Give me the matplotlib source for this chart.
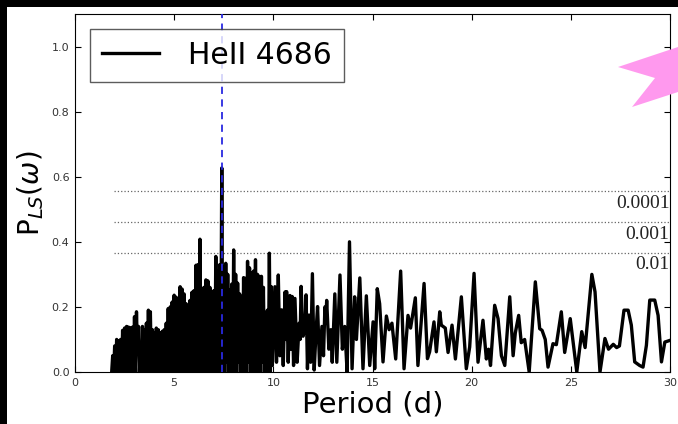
"""Lomb-Scargle periodogram of the HeII 4686 line."""

import matplotlib

matplotlib.use("Agg")
import matplotlib.pyplot as plt
from matplotlib.patches import Polygon, Rectangle

plt.rcParams["path.simplify"] = False

# dense short-period part: alternating troughs and peaks
trough_period = [
    1.85, 1.95, 2.05, 2.15, 2.25, 2.35, 2.45, 2.55, 2.65, 2.75,
    2.85, 2.95, 3.05, 3.15, 3.25, 3.35, 3.45, 3.55, 3.65, 3.75,
    3.85, 3.95, 4.05, 4.15, 4.25, 4.35, 4.45, 4.55, 4.65, 4.75,
    4.85, 4.95, 5.05, 5.15, 5.25, 5.35, 5.45, 5.55, 5.65, 5.75,
    5.85, 5.95, 6.05, 6.15, 6.25, 6.35, 6.45, 6.55, 6.65, 6.75,
    6.85, 6.95, 7.05, 7.15, 7.25, 7.35, 7.45, 7.55, 7.65, 7.75,
    7.85, 7.95, 8.05, 8.15, 8.25, 8.35, 8.45, 8.55, 8.65, 8.75,
    8.85, 8.95, 9.05, 9.15, 9.25, 9.35, 9.45, 9.55, 9.65, 9.75,
    9.85,
]
trough_power = [
    0.0, 0.0, 0.0, 0.0, 0.0, 0.0, 0.0, 0.0, 0.0, 0.0,
    0.0, 0.0, 0.0, 0.06, 0.0, 0.0, 0.0, 0.0, 0.0, 0.0,
    0.0, 0.0, 0.0, 0.0, 0.0, 0.0, 0.0, 0.0, 0.0, 0.0,
    0.0, 0.0, 0.0, 0.0, 0.0, 0.0, 0.02, 0.0, 0.0, 0.0,
    0.0, 0.0, 0.0, 0.0, 0.0, 0.0, 0.0, 0.0, 0.02, 0.0,
    0.0, 0.0, 0.0, 0.0, 0.0, 0.0, 0.0, 0.0, 0.03, 0.0,
    0.0, 0.0, 0.0, 0.0, 0.03, 0.0, 0.0, 0.0, 0.0, 0.03,
    0.0, 0.0, 0.0, 0.0, 0.0, 0.0, 0.03, 0.0, 0.0, 0.0,
    0.0,
]
peak_period = [
    1.9, 2.0, 2.1, 2.2, 2.3, 2.4, 2.5, 2.6, 2.7, 2.8,
    2.9, 3.0, 3.1, 3.2, 3.3, 3.4, 3.5, 3.6, 3.7, 3.8,
    3.9, 4.0, 4.1, 4.2, 4.3, 4.4, 4.5, 4.6, 4.7, 4.8,
    4.9, 5.0, 5.1, 5.2, 5.3, 5.4, 5.5, 5.6, 5.7, 5.8,
    5.9, 6.0, 6.1, 6.2, 6.3, 6.4, 6.5, 6.6, 6.7, 6.8,
    6.9, 7.0, 7.1, 7.2, 7.3, 7.4, 7.5, 7.6, 7.7, 7.8,
    7.9, 8.0, 8.1, 8.2, 8.3, 8.4, 8.5, 8.6, 8.7, 8.8,
    8.9, 9.0, 9.1, 9.2, 9.3, 9.4, 9.5, 9.6, 9.7, 9.8,
    9.9,
]
peak_power = [
    0.05, 0.08, 0.10, 0.095, 0.10, 0.128, 0.135, 0.14, 0.138, 0.136,
    0.138, 0.17, 0.185, 0.14, 0.07, 0.14, 0.13, 0.15, 0.19, 0.185,
    0.13, 0.12, 0.135, 0.13, 0.12, 0.125, 0.13, 0.15, 0.195, 0.20,
    0.215, 0.236, 0.23, 0.215, 0.262, 0.255, 0.24, 0.21, 0.185, 0.22,
    0.245, 0.25, 0.328, 0.33, 0.408, 0.25, 0.26, 0.283, 0.28, 0.26,
    0.245, 0.25, 0.355, 0.31, 0.33, 0.627, 0.324, 0.334, 0.30, 0.252,
    0.27, 0.375, 0.30, 0.273, 0.24, 0.232, 0.29, 0.288, 0.34, 0.32,
    0.304, 0.31, 0.345, 0.30, 0.294, 0.294, 0.26, 0.18, 0.19, 0.365,
    0.262,
]

# longer periods, where single oscillations are resolved
long_period = [
    9.95, 10.08, 10.16, 10.25, 10.33, 10.42, 10.50, 10.59, 10.63, 10.67,
    10.75, 10.84, 10.88, 10.95, 11.02, 11.09, 11.2, 11.3, 11.35, 11.4,
    11.5, 11.57, 11.6, 11.65, 11.72, 11.8, 11.88, 11.97, 12.06, 12.15,
    12.23, 12.33, 12.45, 12.53, 12.6, 12.64, 12.69, 12.8, 12.9, 12.97,
    13.1, 13.2, 13.36, 13.48, 13.6, 13.72, 13.84, 13.97, 14.1, 14.19,
    14.36, 14.52, 14.69, 14.86, 15.03, 15.11, 15.24, 15.36, 15.53, 15.7,
    15.84, 15.98, 16.17, 16.42, 16.59, 16.79, 16.92, 17.16, 17.29, 17.6,
    17.77, 17.88, 18.1, 18.22, 18.39, 18.47, 18.67, 18.81, 19.01, 19.18,
    19.48, 19.73, 19.9, 20.12, 20.32, 20.57, 20.74, 20.85, 20.95, 21.16,
    21.33, 21.5, 21.67, 21.92, 22.09, 22.2, 22.37, 22.5, 22.67, 22.9,
    23.21, 23.43, 23.55, 23.71, 23.85, 24.1, 24.27, 24.52, 24.69, 24.97,
    25.3, 25.55, 25.72, 26.06, 26.22, 26.47, 26.72, 26.9, 27.14, 27.31,
    27.45, 27.68, 27.89, 28.05, 28.22, 28.47, 28.64, 28.81, 28.98, 29.23,
    29.4, 29.57, 29.74, 29.99,
]
long_power = [
    0.02, 0.262, 0.03, 0.298, 0.05, 0.191, 0.02, 0.246, 0.10, 0.247,
    0.03, 0.235, 0.07, 0.232, 0.02, 0.226, 0.03, 0.15, 0.10, 0.263,
    0.11, 0.16, 0.12, 0.237, 0.01, 0.175, 0.03, 0.302, 0.006, 0.12,
    0.201, 0.02, 0.14, 0.05, 0.20, 0.15, 0.22, 0.07, 0.13, 0.03,
    0.24, 0.03, 0.298, 0.07, 0.14, 0.0, 0.40, 0.01, 0.231, 0.10,
    0.289, 0.01, 0.234, 0.02, 0.154, 0.01, 0.256, 0.21, 0.031, 0.172,
    0.13, 0.15, 0.04, 0.31, 0.01, 0.174, 0.135, 0.228, 0.02, 0.272,
    0.041, 0.062, 0.154, 0.062, 0.185, 0.144, 0.135, 0.06, 0.144, 0.04,
    0.231, 0.01, 0.077, 0.303, 0.03, 0.159, 0.04, 0.07, 0.02, 0.205,
    0.164, 0.05, 0.02, 0.231, 0.05, 0.12, 0.174, 0.09, 0.10, 0.0,
    0.277, 0.133, 0.128, 0.10, 0.015, 0.087, 0.084, 0.185, 0.06, 0.164,
    0.0, 0.124, 0.075, 0.30, 0.246, 0.0, 0.103, 0.07, 0.085, 0.075,
    0.08, 0.19, 0.19, 0.144, 0.031, 0.02, 0.015, 0.082, 0.221, 0.221,
    0.174, 0.031, 0.092, 0.097,
]

best_period = 7.42
fap_levels = [0.555, 0.46, 0.367]
fap_labels = ["0.0001", "0.001", "0.01"]
fap_start = 1.95

period = []
power = []
for tp, tv, pp, pv in zip(trough_period, trough_power, peak_period, peak_power):
    period += [tp, pp]
    power += [tv, pv]
period += long_period
power += long_power

fig = plt.figure(figsize=(6.78, 4.24), dpi=100, facecolor="black")
fig.patches.append(Rectangle((7 / 678, 0), 1, 417 / 424, transform=fig.transFigure,
                             facecolor="white", edgecolor="none", zorder=-10))
ax = fig.add_axes([75 / 678, 52 / 424, 595 / 678, 358 / 424])

ax.plot(period, power, color="black", lw=2.4, label="HeII 4686", zorder=3,
        solid_joinstyle="round")
ax.axvline(best_period, color="#2a2ae0", lw=1.3, ls=(0, (4, 3)), zorder=4)
for level, text in zip(fap_levels, fap_labels):
    ax.plot([fap_start, 30], [level, level], color="#666666", lw=0.9, ls=":", zorder=2)
    ax.text(29.97, level - 0.012, text, ha="right", va="top", fontsize=14,
            family="Liberation Serif", color="#222222")

ax.set_xlim(0, 30)
ax.set_ylim(0, 1.1)
ax.set_xticks([0, 5, 10, 15, 20, 25, 30])
ax.set_yticks([0.0, 0.2, 0.4, 0.6, 0.8, 1.0])
ax.tick_params(direction="in", length=4, top=True, right=True, labelsize=8,
               labelcolor="#333333", pad=4)
ax.set_xlabel("Period (d)", fontsize=21, labelpad=2)
ax.set_ylabel(r"P$_{LS}(\omega)$", fontsize=20, labelpad=4)

leg = ax.legend(loc="upper left", fontsize=21.5, fancybox=False, handlelength=1.9,
                handletextpad=1.0, borderpad=0.4, borderaxespad=0.5)
leg.get_frame().set_edgecolor("#333333")
leg.get_frame().set_linewidth(1.0)

# pink pointer in the top right corner
arrow_xy = [(678, 47), (618, 67), (655, 78), (632, 107), (678, 92)]
fig.patches.append(Polygon([(x / 678, 1 - y / 424) for x, y in arrow_xy], closed=True,
                           transform=fig.transFigure, facecolor="#ff99ee",
                           edgecolor="none", zorder=5))

fig.savefig("out.png", dpi=100, facecolor=fig.get_facecolor())
